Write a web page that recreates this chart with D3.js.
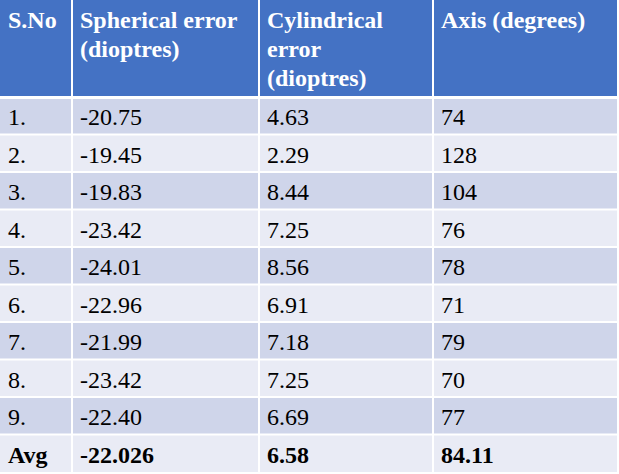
<!DOCTYPE html>
<html>
<head>
<meta charset="utf-8">
<script src="https://cdn.jsdelivr.net/npm/d3@7"></script>
</head>
<body style="margin:0">
<script>
// Table data
const headers = [["S.No"], ["Spherical error", "(dioptres)"], ["Cylindrical", "error", "(dioptres)"], ["Axis (degrees)"]];
const serialNos = ["1.", "2.", "3.", "4.", "5.", "6.", "7.", "8.", "9."];
const sphericalError = ["-20.75", "-19.45", "-19.83", "-23.42", "-24.01", "-22.96", "-21.99", "-23.42", "-22.40"];
const cylindricalError = ["4.63", "2.29", "8.44", "7.25", "8.56", "6.91", "7.18", "7.25", "6.69"];
const axisDegrees = ["74", "128", "104", "76", "78", "71", "79", "70", "77"];
const averages = ["Avg", "-22.026", "6.58", "84.11"];

const rows = serialNos.map((s, i) => [s, sphericalError[i], cylindricalError[i], axisDegrees[i]]);
rows.push(averages);

const width = 619, height = 474;
const colEdges = [0, 72, 259, 433, 617];
const headerH = 97;
const rowH = 37.5;
const fontSize = 24;

const svg = d3.select("body").append("svg")
  .attr("width", width)
  .attr("height", height);

const y = d3.scaleBand()
  .domain(d3.range(rows.length))
  .range([headerH, headerH + rowH * rows.length])
  .padding(0);

// cell backgrounds
const bg = svg.append("g");
headers.forEach((lines, c) => {
  bg.append("rect")
    .attr("x", colEdges[c]).attr("y", 0)
    .attr("width", colEdges[c + 1] - colEdges[c]).attr("height", headerH)
    .attr("fill", "#4472C4");
});
rows.forEach((r, i) => {
  bg.append("rect")
    .attr("x", 0).attr("y", y(i))
    .attr("width", colEdges[4]).attr("height", y.bandwidth())
    .attr("fill", i % 2 === 0 ? "#CFD5EA" : "#E9EBF5");
});

// white grid lines
const grid = svg.append("g").attr("stroke", "#fff").attr("stroke-width", 2);
colEdges.slice(1, -1).forEach(x => {
  grid.append("line").attr("x1", x).attr("x2", x).attr("y1", 0).attr("y2", y(rows.length - 1) + rowH);
});
grid.append("line").attr("x1", 0).attr("x2", colEdges[4]).attr("y1", headerH + 0.5).attr("y2", headerH + 0.5).attr("stroke-width", 3);
d3.range(1, rows.length).forEach(i => {
  grid.append("line").attr("x1", 0).attr("x2", colEdges[4]).attr("y1", y(i)).attr("y2", y(i));
});

// header text, one element per line
const headLines = headers.flatMap((lines, c) => lines.map((ln, k) => ({ c, k, ln })));
svg.append("g").selectAll("text").data(headLines).join("text")
  .attr("x", d => colEdges[d.c] + 8)
  .attr("y", d => 28 + d.k * 29)
  .attr("font-family", "Liberation Serif")
  .attr("font-size", fontSize)
  .attr("font-weight", "bold")
  .attr("fill", "#fff")
  .text(d => d.ln);

// body text
const cells = rows.flatMap((r, i) => r.map((v, c) => ({ i, c, v })));
svg.append("g").selectAll("text").data(cells).join("text")
  .attr("x", d => colEdges[d.c] + 8)
  .attr("y", d => y(d.i) + y.bandwidth() / 2 + 9.5)
  .attr("font-family", "Liberation Serif")
  .attr("font-size", fontSize)
  .attr("font-weight", d => d.i === rows.length - 1 ? "bold" : null)
  .attr("fill", "#000")
  .text(d => d.v);
</script>
</body>
</html>
